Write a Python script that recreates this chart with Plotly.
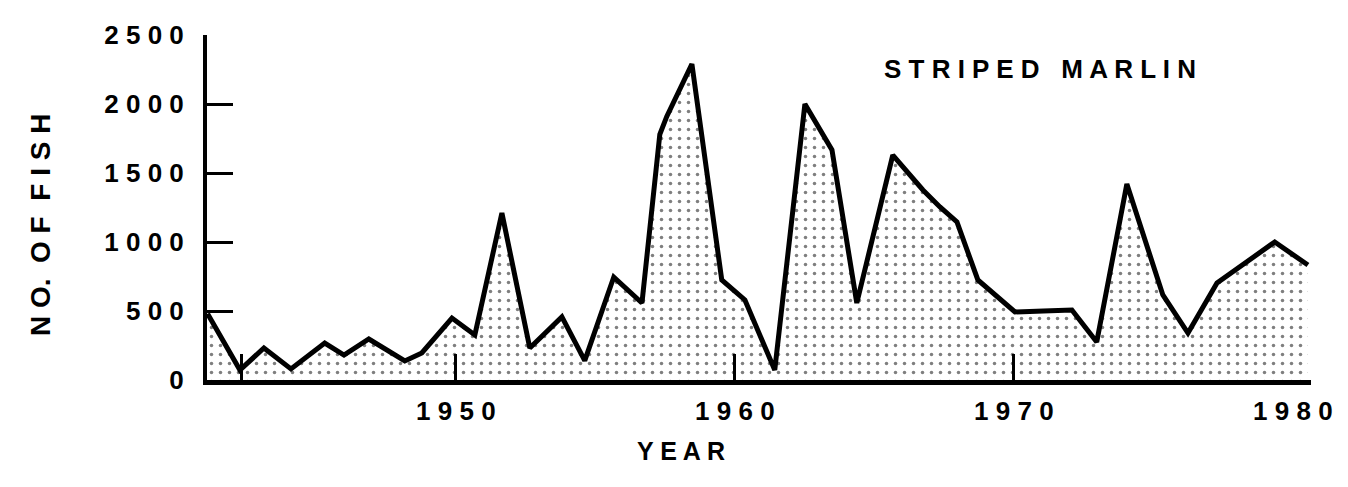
import plotly.graph_objects as go

# Data (x = position along the year axis, y = number of fish)
year_pos = [1941.1, 1942.26, 1943.12, 1944.09, 1945.30, 1945.99, 1946.88, 1948.17, 1948.78,
            1949.86, 1950.68, 1951.65, 1952.65, 1953.80, 1954.62, 1955.66, 1956.67, 1957.31,
            1957.56, 1958.46, 1959.53, 1960.36, 1961.43, 1962.51, 1963.48, 1964.37, 1965.66,
            1966.74, 1967.35, 1967.96, 1968.71, 1970.04, 1971.06, 1972.08, 1972.97, 1974.05,
            1975.34, 1976.24, 1977.28, 1978.3, 1979.35, 1980.54]
fish = [480, 72, 232, 80, 268, 181, 297, 138, 196,
        449, 326, 1210, 232, 457, 140, 746, 558, 1780,
        1910, 2290, 725, 580, 72, 2000, 1667, 558, 1630,
        1377, 1254, 1145, 725, 493, 500, 507, 275, 1420,
        616, 340, 703, 850, 1000, 833]

y_ticks = [0, 500, 1000, 1500, 2000, 2500]
y_labels = ["0", "5 0 0", "1 0 0 0", "1 5 0 0", "2 0 0 0", "2 5 0 0"]
x_ticks = [1950, 1960, 1970, 1980]
x_labels = ["1 9 5 0", "1 9 6 0", "1 9 7 0", "1 9 8 0"]
x_minor_ticks = [1942.3, 1950, 1960, 1970]

FONT = "Liberation Sans, Arial, Helvetica, sans-serif"

fig = go.Figure()
fig.add_trace(go.Scatter(
    x=year_pos, y=fish, mode="lines",
    line=dict(color="black", width=5),
    fill="tozeroy", fillcolor="white",
    fillpattern=dict(shape=".", size=9, solidity=0.12, fgcolor="black", bgcolor="white"),
    hoverinfo="skip", showlegend=False,
))

fig.update_layout(
    width=1348, height=487,
    margin=dict(l=199, r=45, t=27, b=115),
    paper_bgcolor="white", plot_bgcolor="white",
    font=dict(family=FONT, size=26, color="black", weight="bold"),
    xaxis=dict(
        range=[1941.08, 1980.65], showgrid=False, zeroline=False,
        showline=True, linecolor="black", linewidth=5,
        tickmode="array", tickvals=x_ticks, ticktext=x_labels, ticks="",
        ticklabelstandoff=4,
        tickfont=dict(family=FONT, size=26, color="black", weight="bold"),
        minor=dict(tickmode="array", tickvals=x_minor_ticks, ticks="inside",
                   ticklen=26, tickwidth=2.5, tickcolor="black"),
    ),
    yaxis=dict(
        range=[0, 2500], showgrid=False, zeroline=False,
        showline=True, linecolor="black", linewidth=4,
        tickmode="array", tickvals=y_ticks, ticktext=y_labels,
        ticks="inside", ticklen=26, tickwidth=3, tickcolor="black",
        ticklabelstandoff=14,
        tickfont=dict(family=FONT, size=26, color="black", weight="bold"),
    ),
    annotations=[
        dict(text="S T R I P E D   M A R L I N", xref="paper", yref="paper",
             x=0.7545, y=0.9014, xanchor="center", yanchor="middle", showarrow=False,
             font=dict(family=FONT, size=26, color="black", weight="bold")),
        dict(text="N O.  O F  F I S H", xref="paper", yref="paper",
             x=0, y=0.449, xshift=-167, xanchor="center", yanchor="middle",
             textangle=-90, showarrow=False,
             font=dict(family=FONT, size=28, color="black", weight="bold")),
        dict(text="Y E A R", xref="paper", yref="paper",
             x=0.4293, y=0, yshift=-71, xanchor="center", yanchor="middle",
             showarrow=False,
             font=dict(family=FONT, size=25, color="black", weight="bold")),
    ],
)

fig.write_html("out.html")
